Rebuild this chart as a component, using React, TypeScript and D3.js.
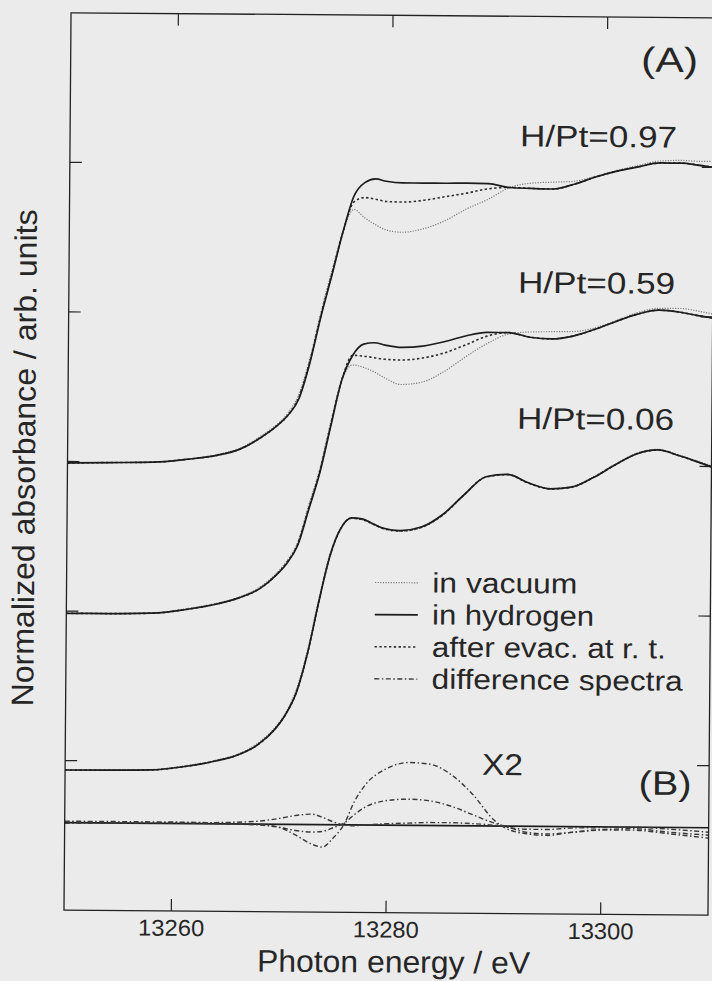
import React from 'react';
import * as d3 from 'd3';

// ---------- data ----------
const energy = [13250, 13254, 13258, 13261, 13264, 13266, 13268, 13269.5, 13270.5, 13271.5, 13272.5, 13273.5, 13274.5, 13275.5, 13276.5, 13277.5, 13278.5, 13279.5, 13281, 13283, 13285, 13287, 13289, 13291, 13293, 13295, 13297, 13299, 13301, 13303, 13305, 13307, 13308.5, 13310];

// H/Pt = 0.97 (offset stack, top)
const hydrogen097 = [1.99, 1.995, 2.0, 2.02, 2.05, 2.09, 2.17, 2.25, 2.32, 2.43, 2.67, 2.98, 3.26, 3.55, 3.79, 3.88, 3.905, 3.89, 3.88, 3.88, 3.88, 3.882, 3.88, 3.855, 3.85, 3.847, 3.88, 3.93, 3.97, 4.0, 4.027, 4.027, 4.015, 4.0];
const evac097 = [1.99, 1.995, 2.0, 2.02, 2.05, 2.09, 2.17, 2.25, 2.32, 2.44, 2.68, 2.99, 3.27, 3.55, 3.75, 3.78, 3.77, 3.755, 3.752, 3.765, 3.79, 3.815, 3.845, 3.855, 3.85, 3.847, 3.88, 3.93, 3.97, 4.0, 4.027, 4.027, 4.015, 4.0];
const vacuum097 = [1.99, 1.995, 2.0, 2.02, 2.055, 2.095, 2.18, 2.26, 2.335, 2.46, 2.7, 3.01, 3.29, 3.55, 3.7, 3.645, 3.6, 3.565, 3.55, 3.575, 3.63, 3.71, 3.775, 3.855, 3.885, 3.893, 3.9, 3.935, 3.975, 4.01, 4.04, 4.045, 4.04, 4.04];

// H/Pt = 0.59 (middle)
const hydrogen059 = [0.985, 0.985, 0.99, 1.015, 1.055, 1.095, 1.16, 1.25, 1.33, 1.45, 1.69, 1.934, 2.25, 2.56, 2.725, 2.8, 2.81, 2.795, 2.78, 2.79, 2.82, 2.86, 2.885, 2.885, 2.855, 2.845, 2.865, 2.91, 2.965, 3.015, 3.043, 3.03, 3.01, 2.993];
const evac059 = [0.985, 0.985, 0.99, 1.015, 1.055, 1.095, 1.16, 1.25, 1.335, 1.46, 1.7, 1.945, 2.26, 2.56, 2.725, 2.72, 2.71, 2.7, 2.696, 2.71, 2.745, 2.8, 2.86, 2.885, 2.855, 2.845, 2.865, 2.91, 2.965, 3.015, 3.043, 3.03, 3.01, 2.993];
const vacuum059 = [0.985, 0.985, 0.99, 1.02, 1.06, 1.1, 1.17, 1.26, 1.345, 1.47, 1.72, 1.96, 2.28, 2.56, 2.66, 2.645, 2.615, 2.575, 2.532, 2.55, 2.62, 2.72, 2.81, 2.875, 2.89, 2.893, 2.895, 2.92, 2.97, 3.025, 3.055, 3.055, 3.04, 3.02];

// H/Pt = 0.06 (bottom)
const hydrogen006 = [-0.063, -0.062, -0.058, -0.035, 0.005, 0.045, 0.12, 0.22, 0.32, 0.47, 0.73, 1.07, 1.377, 1.565, 1.638, 1.632, 1.6, 1.57, 1.555, 1.58, 1.665, 1.8, 1.92, 1.937, 1.88, 1.842, 1.855, 1.92, 2.005, 2.08, 2.108, 2.07, 2.035, 1.998];
const evac006 = [-0.063, -0.062, -0.058, -0.035, 0.005, 0.045, 0.12, 0.22, 0.32, 0.47, 0.73, 1.07, 1.377, 1.565, 1.635, 1.628, 1.598, 1.568, 1.553, 1.578, 1.662, 1.8, 1.918, 1.935, 1.878, 1.842, 1.855, 1.92, 2.005, 2.08, 2.108, 2.07, 2.035, 1.998];
const vacuum006 = [-0.06, -0.058, -0.055, -0.03, 0.01, 0.05, 0.13, 0.23, 0.33, 0.49, 0.75, 1.09, 1.39, 1.57, 1.635, 1.625, 1.595, 1.565, 1.55, 1.575, 1.66, 1.8, 1.92, 1.937, 1.88, 1.845, 1.86, 1.925, 2.01, 2.085, 2.112, 2.075, 2.04, 2.005];

// difference spectra (x2), relative to their zero line
const diffEnergy = [13250, 13255, 13260, 13265, 13268, 13270, 13271.5, 13273, 13274, 13275, 13276, 13277, 13278, 13280, 13282, 13284, 13286, 13288, 13290, 13291, 13293, 13295, 13297, 13300, 13303, 13306, 13310];
const diff097 = [0.01, 0.01, 0.01, 0.005, 0.0, -0.02, -0.07, -0.13, -0.15, -0.09, 0.0, 0.16, 0.27, 0.38, 0.42, 0.41, 0.34, 0.21, 0.04, -0.01, -0.05, -0.06, -0.04, -0.02, -0.02, -0.04, -0.07];
const diff059 = [0.005, 0.0, 0.005, 0.0, -0.005, -0.02, -0.04, -0.05, -0.045, -0.02, 0.01, 0.07, 0.12, 0.165, 0.175, 0.165, 0.13, 0.075, 0.02, 0.0, -0.04, -0.05, -0.04, -0.02, -0.01, -0.03, -0.05];
const diff006 = [-0.005, 0.0, 0.005, 0.01, 0.02, 0.04, 0.06, 0.07, 0.05, 0.02, 0.0, -0.005, 0.0, 0.01, 0.015, 0.02, 0.02, 0.015, 0.005, -0.005, -0.02, -0.02, -0.01, -0.005, 0.0, -0.01, -0.03];
const diffZero = -0.415;

const xTicks = [13260, 13280, 13300];
const yTicks = [0, 1, 2, 3, 4];
const coverageLabels = ['H/Pt=0.97', 'H/Pt=0.59', 'H/Pt=0.06'];
const legendLabels = ['in vacuum', 'in hydrogen', 'after evac. at r. t.', 'difference spectra'];

// ---------- styles ----------
const FONT = "'Liberation Sans', Arial, Helvetica, sans-serif";
const INK = '#262626';
const styles: Record<string, { stroke: string; width: number; dash?: string }> = {
  vacuum: { stroke: '#7c7c7c', width: 1.2, dash: '1.2 1.4' },
  hydrogen: { stroke: '#1c1c1c', width: 1.7 },
  evac: { stroke: '#2e2e2e', width: 1.6, dash: '2.4 2.4' },
  diff: { stroke: '#3a3a3a', width: 1.4, dash: '5 2.5 1.5 2.5' },
};

export default function App() {
  const W = 712, H = 981;
  const left = 67.5, right = 711.5, top = 15.3, bottom = 912.7;
  const x = d3.scaleLinear().domain([13250, 13310]).range([left, right]);
  const y = d3.scaleLinear().domain([-1, 5]).range([bottom, top]);
  const line = d3.line<[number, number]>().x(d => x(d[0])).y(d => y(d[1])).curve(d3.curveMonotoneX);

  const mk = (vals: number[]) => energy.map((e, i) => [e, vals[i]] as [number, number]);
  const mkDiff = (vals: number[]) => diffEnergy.map((e, i) => [e, vals[i] + diffZero] as [number, number]);

  const series = [
    { kind: 'vacuum', d: mk(vacuum097) },
    { kind: 'vacuum', d: mk(vacuum059) },
    { kind: 'vacuum', d: mk(vacuum006) },
    { kind: 'evac', d: mk(evac097) },
    { kind: 'evac', d: mk(evac059) },
    { kind: 'evac', d: mk(evac006) },
    { kind: 'hydrogen', d: mk(hydrogen097) },
    { kind: 'hydrogen', d: mk(hydrogen059) },
    { kind: 'hydrogen', d: mk(hydrogen006) },
    { kind: 'diff', d: mkDiff(diff006) },
    { kind: 'diff', d: mkDiff(diff059) },
    { kind: 'diff', d: mkDiff(diff097) },
  ];

  const tickLen = 12;
  const labelPos = [
    { x: 517.5, y: 145.3 },
    { x: 516.7, y: 291.7 },
    { x: 516.7, y: 427.7 },
  ];
  const legendX = 376, legendTextX = 433.3;
  const legendY = [592.1, 624.2, 656.3, 688.4];
  const legendKinds = ['vacuum', 'hydrogen', 'evac', 'diff'];
  const legendWidths = [145, 162, 234, 251];

  return (
    <svg width={W} height={H} viewBox={`0 0 ${W} ${H}`}
      style={{ position: 'absolute', left: 0, top: 0, display: 'block' }}>
      <rect x={0} y={0} width={W} height={H} fill="#ebebeb" />
      <defs>
        <clipPath id="plotClip">
          <rect x={left} y={top} width={right - left} height={bottom - top} />
        </clipPath>
      </defs>
      <g transform="rotate(0.45 389.5 464)">
        {/* zero line of difference spectra */}
        <line x1={left} x2={right} y1={y(diffZero)} y2={y(diffZero)} stroke="#1c1c1c" strokeWidth={1.6} />
        <g clipPath="url(#plotClip)">
          {series.map((s, i) => {
            const st = styles[s.kind];
            return <path key={i} d={line(s.d) || ''} fill="none" stroke={st.stroke}
              strokeWidth={st.width} strokeDasharray={st.dash} strokeLinejoin="round" />;
          })}
        </g>
        {/* frame */}
        <rect x={left} y={top} width={right - left} height={bottom - top} fill="none" stroke="#222" strokeWidth={1.3} />
        {xTicks.map(t => (
          <g key={t}>
            <line x1={x(t)} x2={x(t)} y1={bottom} y2={bottom - tickLen} stroke="#222" strokeWidth={1.2} />
            <line x1={x(t)} x2={x(t)} y1={top} y2={top + tickLen} stroke="#222" strokeWidth={1.2} />
            <text x={x(t)} y={937.5} textAnchor="middle" fontFamily={FONT} fontSize={23} fill={INK}
              textLength={66} lengthAdjust="spacingAndGlyphs">{t}</text>
          </g>
        ))}
        {yTicks.map(t => (
          <g key={t}>
            <line x1={left} x2={left + tickLen} y1={y(t)} y2={y(t)} stroke="#222" strokeWidth={1.2} />
            <line x1={right} x2={right - tickLen} y1={y(t)} y2={y(t)} stroke="#222" strokeWidth={1.2} />
          </g>
        ))}
        {/* axis titles */}
        <text x={397.5} y={972.5} textAnchor="middle" fontFamily={FONT} fontSize={31} fill={INK}
          textLength={273} lengthAdjust="spacingAndGlyphs">Photon energy / eV</text>
        <text transform="translate(35 460.8) rotate(-90)" textAnchor="middle" fontFamily={FONT} fontSize={31}
          fill={INK} textLength={497} lengthAdjust="spacingAndGlyphs">Normalized absorbance / arb. units</text>
        {/* panel labels */}
        <text x={638} y={69.8} fontFamily={FONT} fontSize={35} fill={INK} textLength={57} lengthAdjust="spacingAndGlyphs">(A)</text>
        <text x={641.2} y={792.8} fontFamily={FONT} fontSize={34} fill={INK} textLength={53} lengthAdjust="spacingAndGlyphs">(B)</text>
        <text x={484.4} y={774.1} fontFamily={FONT} fontSize={30} fill={INK} textLength={41} lengthAdjust="spacingAndGlyphs">X2</text>
        {coverageLabels.map((l, i) => (
          <text key={l} x={labelPos[i].x} y={labelPos[i].y} fontFamily={FONT} fontSize={30} fill={INK}
            textLength={157} lengthAdjust="spacingAndGlyphs">{l}</text>
        ))}
        {/* legend */}
        {legendLabels.map((l, i) => {
          const st = styles[legendKinds[i]];
          return (
            <g key={l}>
              <line x1={legendX} x2={legendX + 43} y1={legendY[i] - 9.5} y2={legendY[i] - 9.5}
                stroke={st.stroke} strokeWidth={st.width} strokeDasharray={st.dash} />
              <text x={legendTextX} y={legendY[i]} fontFamily={FONT} fontSize={28} fill={INK}
                textLength={legendWidths[i]} lengthAdjust="spacingAndGlyphs">{l}</text>
            </g>
          );
        })}
      </g>
    </svg>
  );
}
